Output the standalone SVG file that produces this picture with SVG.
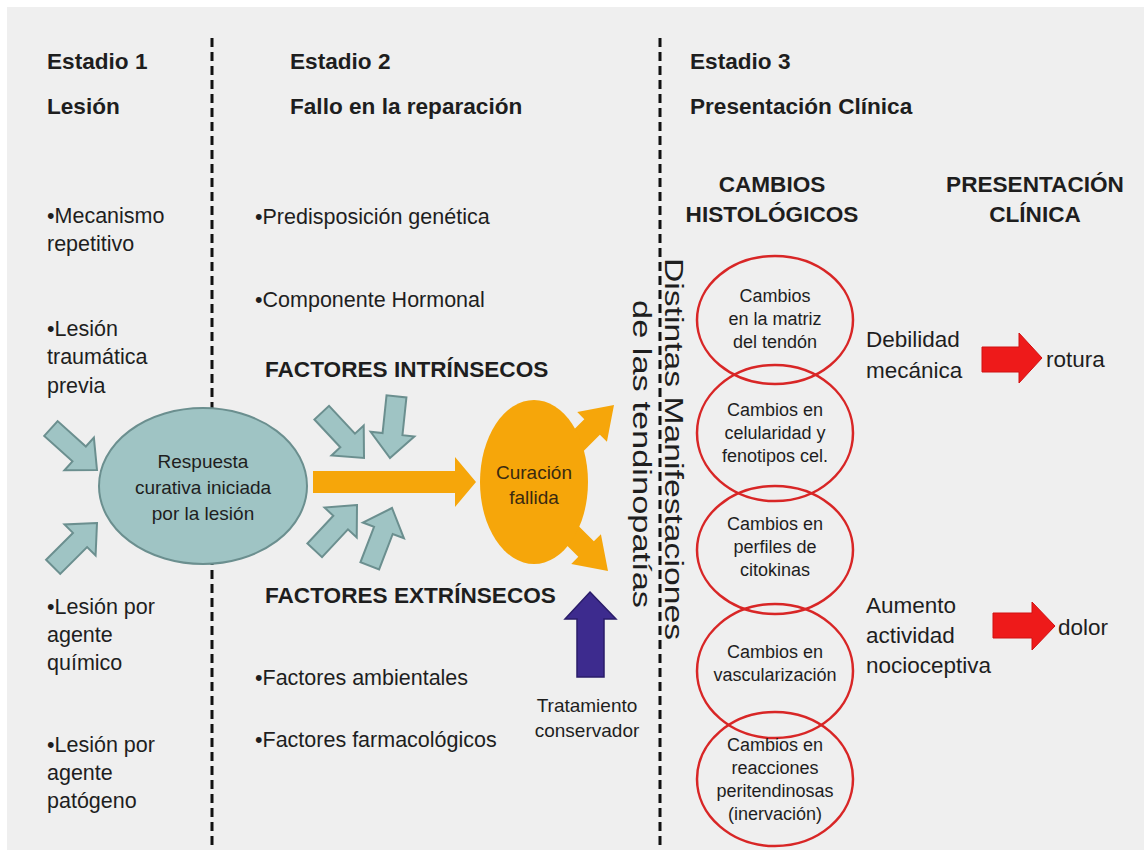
<svg xmlns="http://www.w3.org/2000/svg" xmlns:xlink="http://www.w3.org/1999/xlink" width="1144" height="850" viewBox="0 0 1144 850">
<style>
text{font-family:"Liberation Sans",Arial,sans-serif;fill:#1e1e1e}
.h{font-size:22.6px;font-weight:bold}
.b{font-size:21.5px}
.r{font-size:22.5px}
.c{font-size:18px;text-anchor:middle}
.e{font-size:19px;text-anchor:middle}
.v{font-size:25px}
.dash{stroke:#111;stroke-width:3;stroke-dasharray:9 5;fill:none}
.teal{fill:#9fc4c4;stroke:#6b8f8f;stroke-width:2}
.orange{fill:#f6a60a}
.ring{fill:none;stroke:#d82626;stroke-width:2.5}
.red{fill:#ee1a1a;stroke:#d01010;stroke-width:1}
</style>
<defs>
<path id="ta" d="M0,0 L-24,-22 L-24,-10 L-62,-10 L-62,10 L-24,10 L-24,22 Z"/>
<path id="oa" d="M0,0 L-31,-21 L-31,-11 L-85,-11 L-85,11 L-31,11 L-31,21 Z"/>
</defs>
<rect x="0" y="0" width="1144" height="850" fill="#ffffff"/>
<rect x="7" y="7" width="1137" height="843" fill="#efefef"/>
<line class="dash" x1="212" y1="38" x2="212" y2="850"/>
<line class="dash" x1="660" y1="38" x2="660" y2="850"/>

<g id="stage1">
<text class="h" x="47" y="69">Estadio 1</text>
<text class="h" x="47" y="114">Lesión</text>
<text class="b" x="47" y="223">•Mecanismo</text>
<text class="b" x="47" y="251">repetitivo</text>
<text class="b" x="47" y="336">•Lesión</text>
<text class="b" x="47" y="364">traumática</text>
<text class="b" x="47" y="393">previa</text>
<text class="b" x="47" y="614">•Lesión por</text>
<text class="b" x="47" y="642">agente</text>
<text class="b" x="47" y="670">químico</text>
<text class="b" x="47" y="752">•Lesión por</text>
<text class="b" x="47" y="780">agente</text>
<text class="b" x="47" y="808">patógeno</text>
</g>

<g id="stage2">
<text class="h" x="290" y="69">Estadio 2</text>
<text class="h" x="290" y="114">Fallo en la reparación</text>
<text class="b" x="255" y="224">•Predisposición genética</text>
<text class="b" x="255" y="307">•Componente Hormonal</text>
<text class="h" x="265" y="377">FACTORES INTRÍNSECOS</text>
<text class="h" x="265" y="603">FACTORES EXTRÍNSECOS</text>
<text class="b" x="255" y="685">•Factores ambientales</text>
<text class="b" x="255" y="747">•Factores farmacológicos</text>
</g>

<g id="stage3">
<text class="h" x="690" y="69">Estadio 3</text>
<text class="h" x="690" y="114">Presentación Clínica</text>
<text class="h" x="772" y="192" text-anchor="middle">CAMBIOS</text>
<text class="h" x="772" y="222" text-anchor="middle">HISTOLÓGICOS</text>
<text class="h" x="1035" y="192" text-anchor="middle">PRESENTACIÓN</text>
<text class="h" x="1035" y="222" text-anchor="middle">CLÍNICA</text>
</g>

<g id="manifestaciones">
<text class="v" transform="translate(665,258) rotate(90)" x="0" y="0" textLength="382" lengthAdjust="spacingAndGlyphs">Distintas  Manifestaciones</text>
<text class="v" transform="translate(633,300) rotate(90)" x="0" y="0" textLength="308" lengthAdjust="spacingAndGlyphs">de las tendinopatías</text>
</g>

<g id="connectors">
<use xlink:href="#ta" class="teal" transform="translate(97,470) rotate(42)"/>
<use xlink:href="#ta" class="teal" transform="translate(97,523) rotate(-45)"/>
<use xlink:href="#ta" class="teal" transform="translate(364,458) rotate(47)"/>
<use xlink:href="#ta" class="teal" transform="translate(390,458) rotate(96)"/>
<use xlink:href="#ta" class="teal" transform="translate(357,505) rotate(-47)"/>
<use xlink:href="#ta" class="teal" transform="translate(392,508) rotate(-69)"/>
<polygon class="orange" points="313,471 455,471 455,457 476,482 455,507 455,493 313,493"/>
<use xlink:href="#oa" class="orange" transform="translate(614,405) rotate(-45)"/>
<use xlink:href="#oa" class="orange" transform="translate(608,571) rotate(45)"/>
<polygon fill="#3d2b8e" stroke="#2a1c6a" stroke-width="1.5" points="590,592 616,619 604,619 604,677 577,677 577,619 565,619"/>
<polygon class="red" points="982,347 1019,347 1019,333 1042,358 1019,383 1019,372 982,372"/>
<polygon class="red" points="993,613 1032,613 1032,602 1055,626 1032,650 1032,638 993,638"/>
</g>

<g id="respuesta">
<ellipse cx="203" cy="486" rx="104" ry="78" class="teal"/>
<text class="e" x="203" y="468">Respuesta</text>
<text class="e" x="203" y="494">curativa iniciada</text>
<text class="e" x="203" y="520">por la lesión</text>
</g>

<g id="curacion">
<ellipse cx="534" cy="482" rx="54" ry="82" class="orange"/>
<text class="e" x="534" y="479" style="fill:#3a2a10">Curación</text>
<text class="e" x="534" y="504" style="fill:#3a2a10">fallida</text>
</g>

<g id="tratamiento">
<text class="e" x="587" y="712">Tratamiento</text>
<text class="e" x="587" y="737">conservador</text>
</g>

<g id="c1">
<ellipse class="ring" cx="775" cy="320" rx="78" ry="64"/>
<text class="c" x="775" y="302">Cambios</text>
<text class="c" x="775" y="325">en la matriz</text>
<text class="c" x="775" y="348">del tendón</text>
</g>
<g id="c2">
<ellipse class="ring" cx="775" cy="433" rx="78" ry="68"/>
<text class="c" x="775" y="416">Cambios en</text>
<text class="c" x="775" y="439">celularidad y</text>
<text class="c" x="775" y="462">fenotipos cel.</text>
</g>
<g id="c3">
<ellipse class="ring" cx="775" cy="550" rx="78" ry="64"/>
<text class="c" x="775" y="530">Cambios en</text>
<text class="c" x="775" y="553">perfiles de</text>
<text class="c" x="775" y="576">citokinas</text>
</g>
<g id="c4">
<ellipse class="ring" cx="775" cy="671" rx="78" ry="67"/>
<text class="c" x="775" y="658">Cambios en</text>
<text class="c" x="775" y="681">vascularización</text>
</g>
<g id="c5">
<ellipse class="ring" cx="775" cy="779" rx="78" ry="67"/>
<text class="c" x="775" y="751">Cambios en</text>
<text class="c" x="775" y="774">reacciones</text>
<text class="c" x="775" y="797">peritendinosas</text>
<text class="c" x="775" y="820">(inervación)</text>
</g>

<g id="debilidad">
<text class="r" x="866" y="347">Debilidad</text>
<text class="r" x="866" y="378">mecánica</text>
</g>
<g id="rotura"><text class="r" x="1046" y="367">rotura</text></g>
<g id="aumento">
<text class="r" x="866" y="613">Aumento</text>
<text class="r" x="866" y="643">actividad</text>
<text class="r" x="866" y="673">nocioceptiva</text>
</g>
<g id="dolor"><text class="r" x="1058" y="635">dolor</text></g>
</svg>
